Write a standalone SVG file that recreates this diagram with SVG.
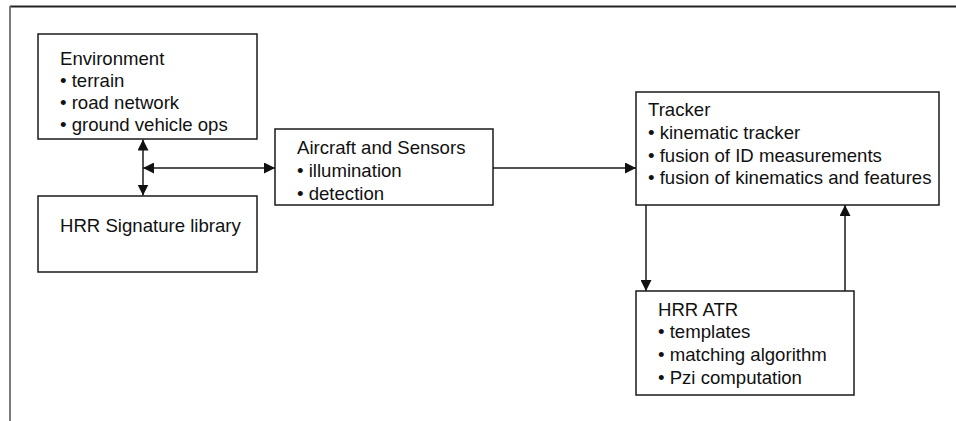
<svg xmlns="http://www.w3.org/2000/svg" width="956" height="421" viewBox="0 0 956 421">
<style>
.box{fill:#fff;stroke:#1a1a1a;stroke-width:1.5}
.t{font-family:"Liberation Sans",Arial,sans-serif;font-size:18.6px;fill:#111}
.c{stroke:#1a1a1a;stroke-width:1.5;fill:none}
</style>
<defs>
<marker id="ah" markerWidth="11" markerHeight="11" refX="11" refY="5.5" orient="auto-start-reverse" markerUnits="userSpaceOnUse" viewBox="0 0 11 11">
<path d="M0,0 L11,5.5 L0,11 Z" fill="#111"/>
</marker>
</defs>
<rect width="956" height="421" fill="#fff"/>
<g id="frame">
<line x1="10" y1="6.5" x2="956" y2="6.5" stroke="#222" stroke-width="1.8"/>
<line x1="10" y1="6" x2="10" y2="421" stroke="#6e6e6e" stroke-width="1.8"/>
</g>
<g id="connectors">
<line class="c" x1="143" y1="139.5" x2="143" y2="195.5" marker-start="url(#ah)" marker-end="url(#ah)"/>
<line class="c" x1="143" y1="168" x2="275" y2="168" marker-start="url(#ah)" marker-end="url(#ah)"/>
<line class="c" x1="493" y1="168" x2="636" y2="168" marker-end="url(#ah)"/>
<line class="c" x1="646" y1="205" x2="646" y2="291" marker-end="url(#ah)"/>
<line class="c" x1="845" y1="291" x2="845" y2="205" marker-end="url(#ah)"/>
</g>
<g id="environment">
<rect class="box" x="38" y="34" width="219" height="105"/>
<text class="t" x="60" y="65">Environment</text>
<text class="t" x="60" y="87">• terrain</text>
<text class="t" x="60" y="109">• road network</text>
<text class="t" x="60" y="131">• ground vehicle ops</text>
</g>
<g id="hrr-signature-library">
<rect class="box" x="38" y="196" width="219" height="76"/>
<text class="t" x="60" y="232">HRR Signature library</text>
</g>
<g id="aircraft-sensors">
<rect class="box" x="275" y="129" width="218" height="76"/>
<text class="t" x="297" y="153.5">Aircraft and Sensors</text>
<text class="t" x="297" y="176.5">• illumination</text>
<text class="t" x="297" y="199.5">• detection</text>
</g>
<g id="tracker">
<rect class="box" x="636" y="92" width="303" height="113"/>
<text class="t" x="648" y="116">Tracker</text>
<text class="t" x="648" y="139">• kinematic tracker</text>
<text class="t" x="648" y="161.7">• fusion of ID measurements</text>
<text class="t" x="648" y="184.4">• fusion of kinematics and features</text>
</g>
<g id="hrr-atr">
<rect class="box" x="636" y="291" width="218" height="104"/>
<text class="t" x="658" y="315.7">HRR ATR</text>
<text class="t" x="658" y="338">• templates</text>
<text class="t" x="658" y="360.7">• matching algorithm</text>
<text class="t" x="658" y="383.5">• Pzi computation</text>
</g>
</svg>
